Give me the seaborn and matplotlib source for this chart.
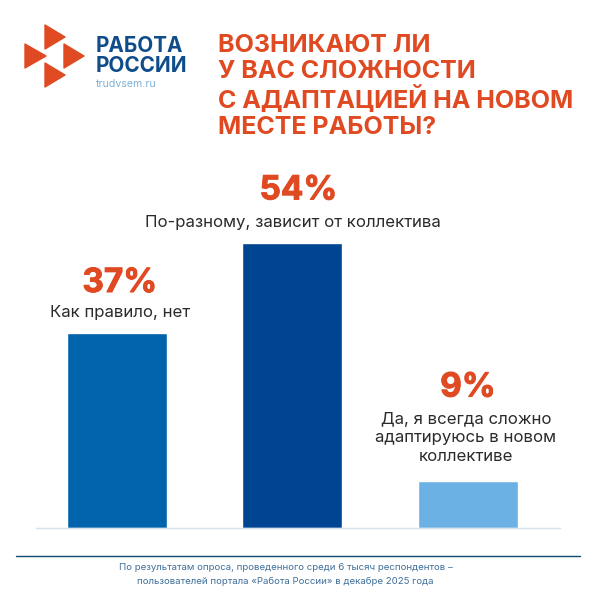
import matplotlib
matplotlib.use("Agg")
import matplotlib.pyplot as plt
from matplotlib.patches import Polygon
from matplotlib.lines import Line2D
import matplotlib.patheffects as pe
import seaborn as sns
import pandas as pd

categories = ["Как правило, нет", "По-разному, зависит от коллектива",
              "Да, я всегда сложно\nадаптируюсь в новом\nколлективе"]
values = [37, 54, 9]
bar_colors = ["#0063AC", "#004592", "#6BB1E3"]
title_lines = ["ВОЗНИКАЮТ ЛИ", "У ВАС СЛОЖНОСТИ", "С АДАПТАЦИЕЙ НА НОВОМ", "МЕСТЕ РАБОТЫ?"]
footnote = ["По результатам опроса, проведенного среди 6 тысяч респондентов –",
            "пользователей портала «Работа России» в декабре 2025 года"]

ORANGE = "#E04A23"
NAVY = "#0F4C8A"
W = 596.0
PT = 0.72  # points per pixel at 100 dpi
sns.set_theme(style="white")
plt.rcParams["font.family"] = ["Inter", "DejaVu Sans"]

fig = plt.figure(figsize=(5.96, 5.96), dpi=100, facecolor="white")
ax = fig.add_axes([36 / W, 1 - 528 / W, 524 / W, 295 / W])
df = pd.DataFrame({"cat": categories, "val": values})
sns.barplot(data=df, x="cat", y="val", hue="cat", palette=bar_colors, legend=False,
            width=0.57, saturation=1, ax=ax)
ax.set_xlim(-0.46, 2.525)
ax.set_ylim(0, 55.98)
ax.set_xlabel(""); ax.set_ylabel("")
ax.set_xticks([]); ax.set_yticks([])
for s in ["top", "left", "right"]:
    ax.spines[s].set_visible(False)
ax.spines["bottom"].set_color("#D3E3EF")
ax.spines["bottom"].set_linewidth(1)
ax.patch.set_alpha(0)

# data labels: offsets from bar top, in pixels
pct_gap = [50, 53, 93]
text_gap = [13, 13, 17]
pct_dx = [3, 6, 0]
text_dx = [3, 1, -2]
for i, (c, v) in enumerate(zip(categories, values)):
    t = ax.annotate(f"{v}%", xy=(i, v), xytext=(pct_dx[i] * PT, pct_gap[i] * PT),
                    textcoords="offset points", ha="center", va="center",
                    color=ORANGE, fontsize=24, fontweight="bold", annotation_clip=False)
    t.set_path_effects([pe.withStroke(linewidth=0.7, foreground=ORANGE)])
    ax.annotate(c, xy=(i, v), xytext=(text_dx[i] * PT, text_gap[i] * PT),
                textcoords="offset points", ha="center", va="bottom", color="#2B2B2B",
                fontsize=12.1, linespacing=1.28, annotation_clip=False)

def px(x, y, s, **kw):
    fig.text(x / W, 1 - y / W, s, **kw)

# logo
for pts in [[(45, 25), (65, 37), (45, 49)], [(25, 44), (46, 56), (25, 68)],
            [(64, 44), (84, 56), (64, 68)], [(45, 63), (65, 75), (45, 87)]]:
    fig.add_artist(Polygon([(a / W, 1 - b / W) for a, b in pts], closed=True,
                           transform=fig.transFigure, facecolor=ORANGE,
                           edgecolor=ORANGE, linewidth=1, joinstyle="round"))
px(96, 46, "РАБОТА", color=NAVY, fontsize=14.9, fontweight="bold", va="center")
px(96, 66, "РОССИИ", color=NAVY, fontsize=14.9, fontweight="bold", va="center")
px(96, 84, "trudvsem.ru", color="#7FB2D6", fontsize=7.6, va="center")

# title
for y, line in zip([45, 71, 99, 128], title_lines):
    px(218, y, line, color=ORANGE, fontsize=18, fontweight="bold", va="center")

# footer
fig.add_artist(Line2D([16 / W, 580 / W], [1 - 555.5 / W] * 2, transform=fig.transFigure,
                      color="#0F4A6E", lw=1))
for y, line in zip([568, 581], footnote):
    px(285.5, y, line, color="#3F6F9A", fontsize=6.95, ha="center", va="center")

fig.savefig("out.png", dpi=100, facecolor="white")
